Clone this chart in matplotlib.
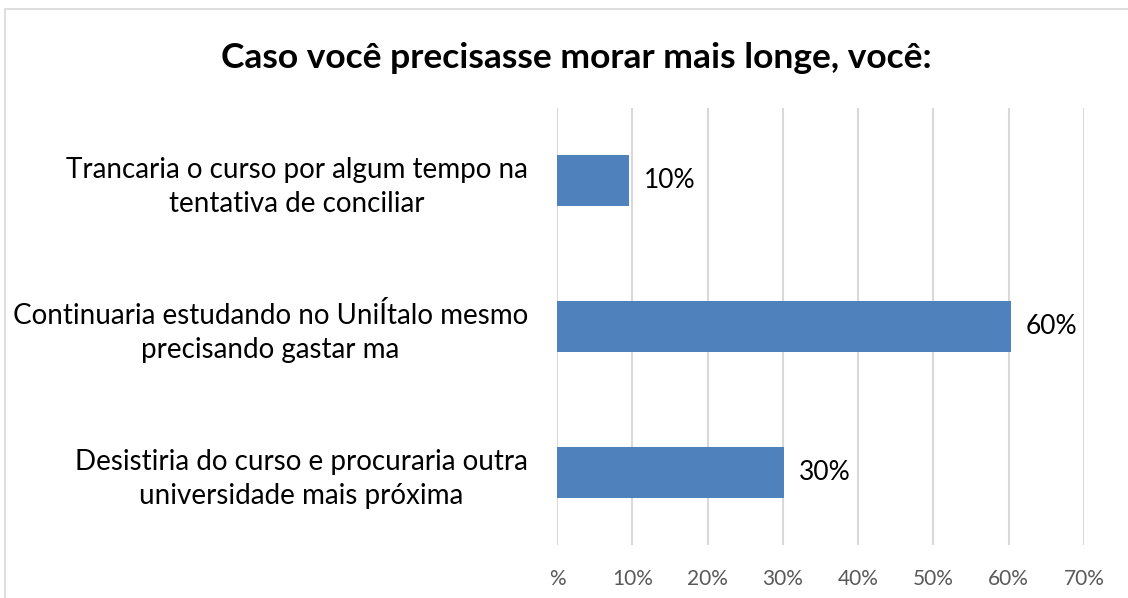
import matplotlib
matplotlib.use("Agg")
import matplotlib.pyplot as plt
from matplotlib.patches import Rectangle

categories = [
    "Desistiria do curso e procuraria outra\nuniversidade mais próxima",
    "Continuaria estudando no UniÍtalo mesmo\nprecisando gastar ma",
    "Trancaria o curso por algum tempo na\ntentativa de conciliar",
]
values = [0.301, 0.603, 0.096]
value_labels = ["30%", "60%", "10%"]
xticks = [0, 0.1, 0.2, 0.3, 0.4, 0.5, 0.6, 0.7]
xticklabels = ["%", "10%", "20%", "30%", "40%", "50%", "60%", "70%"]
title = "Caso você precisasse morar mais longe, você:"

FONT = ["Lato", "DejaVu Sans"]
plt.rcParams["font.family"] = FONT

W, H = 1128, 598
fig = plt.figure(figsize=(W / 100, H / 100), dpi=100)
fig.patch.set_facecolor("white")

# chart frame
fig.patches.append(Rectangle((5 / W, -0.1), 1.2, 1 - 9 / H + 0.1, transform=fig.transFigure,
                             fill=False, edgecolor="#D9D9D9", linewidth=1.2))

ax = fig.add_axes([557 / W, 1 - 545 / H, (1084 - 557) / W, (545 - 108) / H])
ypos = list(range(len(categories)))
ax.barh(ypos, values, height=0.35, color="#4F81BD", zorder=3)
ax.set_xlim(0, 0.7)
ax.set_ylim(-0.5, len(categories) - 0.5)
ax.set_xticks(xticks)
ax.set_xticklabels(xticklabels, color="#595959", fontsize=15)
ax.set_yticks(ypos)
ax.set_yticklabels(categories, fontsize=20, color="#000000", multialignment="center",
                   linespacing=1.38)
ax.tick_params(axis="x", length=0, pad=17)
ax.tick_params(axis="y", length=0, pad=21)
ax.grid(axis="x", color="#D9D9D9", linewidth=1.5, zorder=0)
for s in ax.spines.values():
    s.set_visible(False)

for y, v, lab in zip(ypos, values, value_labels):
    ax.text(v + 0.02, y, lab, va="center", ha="left", fontsize=19, color="#000000")

fig.text(576 / W, 1 - 58 / H, title, ha="center", va="center", fontsize=25.5, fontweight="bold")

fig.savefig("out.png", dpi=100)
